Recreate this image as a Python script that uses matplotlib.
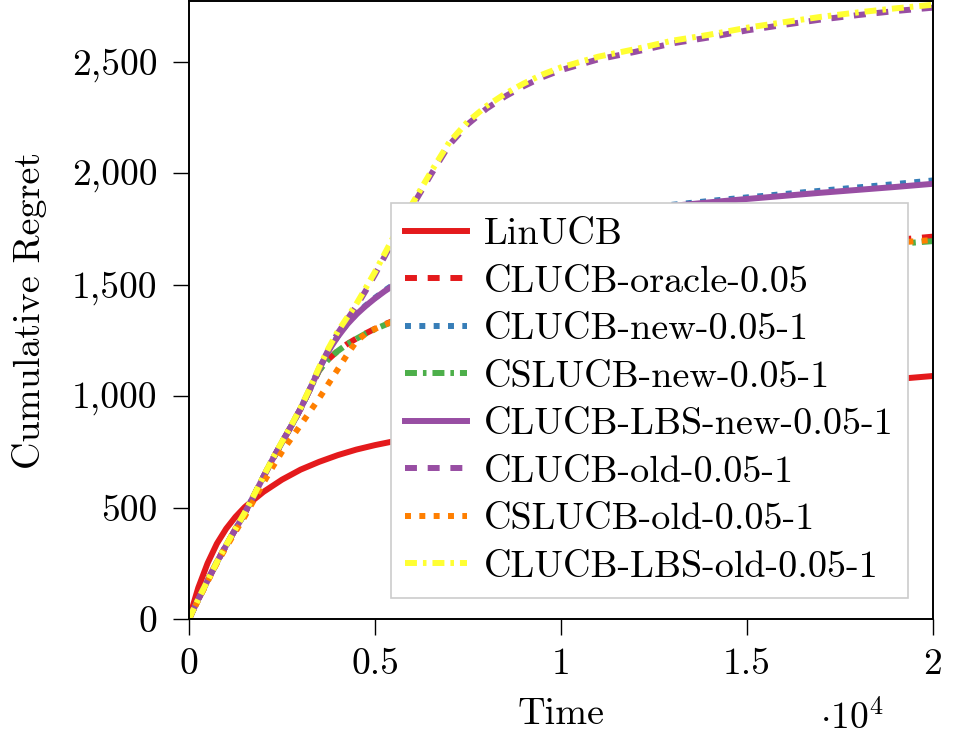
import matplotlib
matplotlib.use("Agg")
import matplotlib.pyplot as plt

plt.rcParams["font.family"] = "serif"
plt.rcParams["font.serif"] = ["cmr10"]
plt.rcParams["mathtext.fontset"] = "cm"
plt.rcParams["axes.formatter.use_mathtext"] = True

# ---- data ----
t_lin = [0, 250, 500, 750, 1000, 1250, 1500, 2000, 2500, 3000, 3500, 4000, 4500, 5000, 5500, 6000,
         7000, 8000, 9000, 10000, 11000, 12000, 13000, 14000, 15000, 16000, 17000, 18000, 19000, 20000]
linucb = [0, 140, 250, 338, 405, 458, 502, 570, 625, 670, 705, 735, 760, 780, 797, 812,
          840, 865, 890, 912, 935, 957, 977, 996, 1014, 1031, 1047, 1062, 1076, 1090]

t = [0, 250, 500, 750, 1000, 1250, 1500, 1750, 2000, 2250, 2500, 2750, 3000, 3250, 3500, 3750,
     4000, 4250, 4500, 4750, 5000, 5250, 5500, 5750, 6000, 6500, 7000, 7500, 8000, 8500, 9000, 9500,
     10000, 11000, 12000, 13000, 14000, 15000, 16000, 17000, 18000, 19000, 20000]

clucb_oracle = [0, 88, 172, 255, 330, 403, 475, 555, 637, 717, 792, 866, 943, 1030, 1115, 1165,
                1203, 1233, 1258, 1281, 1302, 1321, 1338, 1354, 1370, 1396, 1420, 1441, 1460, 1478, 1495, 1510,
                1525, 1551, 1575, 1597, 1617, 1635, 1652, 1668, 1684, 1700, 1715]
clucb_new = [0, 88, 172, 255, 330, 403, 475, 555, 637, 717, 792, 866, 943, 1030, 1122, 1203,
             1268, 1323, 1368, 1406, 1440, 1472, 1500, 1528, 1555, 1598, 1635, 1665, 1690, 1712, 1732, 1750,
             1767, 1798, 1829, 1858, 1875, 1891, 1906, 1921, 1936, 1951, 1967]
cslucb_new = [0, 88, 172, 255, 330, 403, 475, 555, 637, 717, 792, 866, 943, 1030, 1115, 1165,
              1202, 1232, 1257, 1280, 1300, 1318, 1335, 1351, 1366, 1392, 1415, 1435, 1454, 1471, 1487, 1502,
              1516, 1541, 1564, 1585, 1604, 1622, 1638, 1653, 1668, 1682, 1695]
clucb_lbs_new = [0, 88, 172, 255, 330, 403, 475, 555, 637, 717, 792, 866, 943, 1030, 1122, 1203,
                 1266, 1321, 1366, 1404, 1438, 1469, 1497, 1525, 1552, 1595, 1632, 1662, 1687, 1709, 1729, 1747,
                 1764, 1794, 1824, 1853, 1869, 1884, 1898, 1912, 1925, 1938, 1952]
clucb_old = [0, 88, 172, 255, 330, 403, 475, 555, 637, 717, 792, 866, 943, 1030, 1124, 1208,
             1282, 1343, 1403, 1472, 1545, 1623, 1702, 1776, 1850, 1992, 2127, 2220, 2289, 2344, 2390, 2430,
             2462, 2510, 2544, 2582, 2609, 2640, 2665, 2689, 2709, 2727, 2742]
cslucb_old = [0, 85, 168, 250, 322, 392, 460, 535, 610, 682, 750, 810, 870, 930, 990, 1055,
              1120, 1185, 1245, 1280, 1301, 1319, 1336, 1352, 1368, 1394, 1417, 1438, 1457, 1475, 1491, 1506,
              1520, 1546, 1570, 1591, 1611, 1629, 1645, 1660, 1675, 1688, 1700]
clucb_lbs_old = [0, 88, 172, 255, 332, 405, 477, 557, 639, 720, 795, 869, 947, 1035, 1129, 1214,
                 1290, 1352, 1413, 1484, 1557, 1635, 1714, 1788, 1862, 2004, 2139, 2232, 2301, 2356, 2402, 2442,
                 2474, 2522, 2556, 2594, 2621, 2652, 2677, 2701, 2721, 2739, 2755]

x_ticks = [0, 5000, 10000, 15000, 20000]
x_tick_labels = ["0", "0.5", "1", "1.5", "2"]
y_ticks = [0, 500, 1000, 1500, 2000, 2500]
y_tick_labels = ["0", "500", "1,000", "1,500", "2,000", "2,500"]

red, blue, green, purple, orange, yellow = "#e41a1c", "#377eb8", "#4daf4a", "#984ea3", "#ff7f00", "#ffff33"

fig = plt.figure(figsize=(9.68, 7.38), dpi=100)
ax = fig.add_axes([0.1952, 0.1612, 0.7686, 0.8375])

lw = 4.3
dash = (2.0, 1.8)
dot = (1.0, 1.4)
dashdot = (2.0, 1.0, 0.6, 1.0)
ax.plot(t_lin, linucb, color=red, lw=lw, label="LinUCB")
ax.plot(t, clucb_oracle, color=red, lw=lw, dashes=dash, label="CLUCB-oracle-0.05")
ax.plot(t, clucb_new, color=blue, lw=lw, dashes=dot, label="CLUCB-new-0.05-1")
ax.plot(t, cslucb_new, color=green, lw=lw, dashes=dashdot, label="CSLUCB-new-0.05-1")
ax.plot(t, clucb_lbs_new, color=purple, lw=lw, label="CLUCB-LBS-new-0.05-1")
ax.plot(t, clucb_old, color=purple, lw=lw, dashes=dash, label="CLUCB-old-0.05-1")
ax.plot(t, cslucb_old, color=orange, lw=lw, dashes=dot, label="CSLUCB-old-0.05-1")
ax.plot(t, clucb_lbs_old, color=yellow, lw=lw, dashes=dashdot, label="CLUCB-LBS-old-0.05-1")

ax.set_xlim(0, 20000)
ax.set_ylim(0, 2772)
ax.set_xticks(x_ticks)
ax.set_xticklabels(x_tick_labels)
ax.set_yticks(y_ticks)
ax.set_yticklabels(y_tick_labels)
ax.tick_params(direction="out", length=11.5, width=1.0, labelsize=27, pad=9)
ax.tick_params(axis="y", pad=11)
for s in ax.spines.values():
    s.set_linewidth(1.4)

ax.set_xlabel("Time", fontsize=27.5, labelpad=12)
ax.set_ylabel("Cumulative Regret", fontsize=27.5, labelpad=18)
fig.text(0.88, 0.012, r"$\cdot 10^4$", fontsize=27, ha="center", va="baseline")

leg = ax.legend(loc="lower left", bbox_to_anchor=(0.2715, 0.034), fontsize=27.5, frameon=True,
                fancybox=False, edgecolor="#cccccc", framealpha=1.0, handlelength=1.6,
                handletextpad=0.45, borderpad=0.38, labelspacing=0.36, borderaxespad=0)
leg.get_frame().set_linewidth(1.2)

fig.savefig("out.png", dpi=100)
